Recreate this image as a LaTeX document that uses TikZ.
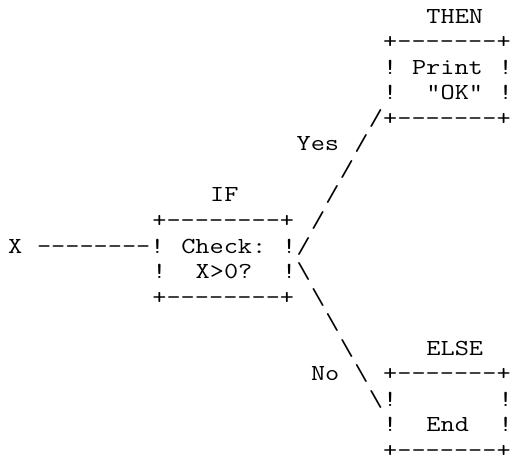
\documentclass[tikz,border=0pt]{standalone}
\usepackage{fontspec}
\setmonofont[FakeStretch=1.2]{Latin Modern Mono}
\tikzset{ascii/.style={font=\ttfamily\fontsize{11.46}{12}\selectfont,inner sep=0pt,anchor=base west}}
\tikzset{slash/.style={ascii}}

\begin{document}
\begin{tikzpicture}[x=7.21pt,y=-12.75pt]
  \useasboundingbox (0,0) rectangle (35.5,18);
  \begin{scope}[shift={(0.54,0.92)}]
  % THEN box
  \node[ascii] (then) at (29,0) {THEN};
  \node[ascii] (thentop) at (26,1) {+-------+};
  \node[ascii] (thenl1) at (26,2) {!};
  \node[ascii] (print) at (28,2) {Print};
  \node[ascii] (thenr1) at (34,2) {!};
  \node[ascii] (thenl2) at (26,3) {!};
  \node[ascii] (ok) at (29,3) {"OK"};
  \node[ascii] (thenr2) at (34,3) {!};
  \node[ascii] (thenbot) at (26,4) {+-------+};
  % IF box
  \node[ascii] (if) at (14,7) {IF};
  \node[ascii] (iftop) at (10,8) {+--------+};
  \node[ascii] (x) at (0,9) {X};
  \node[ascii] (xline) at (2,9) {--------!};
  \node[ascii] (check) at (12,9) {Check:};
  \node[ascii] (ifr1) at (19,9) {!};
  \node[ascii] (ifl2) at (10,10) {!};
  \node[ascii] (cond) at (13,10) {X>0?};
  \node[ascii] (ifr2) at (19,10) {!};
  \node[ascii] (ifbot) at (10,11) {+--------+};
  % ELSE box
  \node[ascii] (else) at (29,13) {ELSE};
  \node[ascii] (elsetop) at (26,14) {+-------+};
  \node[ascii] (elsel1) at (26,15) {!};
  \node[ascii] (elser1) at (34,15) {!};
  \node[ascii] (elsel2) at (26,16) {!};
  \node[ascii] (end) at (29,16) {End};
  \node[ascii] (elser2) at (34,16) {!};
  \node[ascii] (elsebot) at (26,17) {+-------+};
  % branches
  \foreach \r/\c in {4/25,5/24,6/23,7/22,8/21,9/20}
    \node[slash] (yes\r) at (\c,\r) {/};
  \foreach \r/\c in {10/20,11/21,12/22,13/23,14/24,15/25}
    \node[slash] (no\r) at (\c,\r) {\textbackslash};
  \node[ascii] (yes) at (20,5) {Yes};
  \node[ascii] (no) at (21,14) {No};
  \end{scope}
\end{tikzpicture}
\end{document}
